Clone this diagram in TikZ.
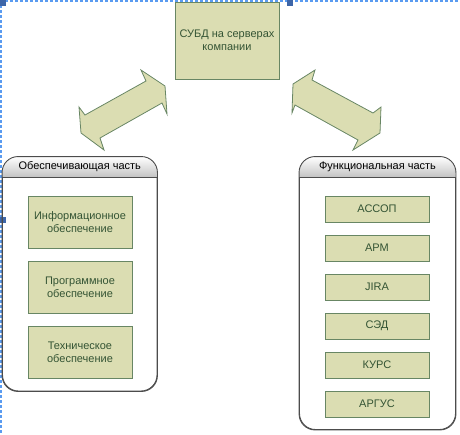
\documentclass[tikz,border=0pt]{standalone}
\usepackage{fontspec}
\setmainfont{Liberation Sans}
\usepackage{tikz}
\usetikzlibrary{positioning,calc}
\definecolor{boxFill}{RGB}{219,221,178}
\definecolor{boxLine}{RGB}{104,134,100}
\definecolor{boxText}{RGB}{52,84,52}
\definecolor{selBlue}{RGB}{90,155,240}
\definecolor{selHandle}{RGB}{62,102,168}
\tikzset{
  subsys/.style={draw=boxLine,fill=boxFill,line width=0.9pt,text=boxText,
    align=center,inner sep=0pt,minimum width=104pt},
  part/.style={draw=black!70,line width=0.9pt,rounded corners=16pt,
    inner sep=0pt},
  blockarrow/.style={draw=boxLine,fill=boxFill,line width=0.8pt,line join=miter}
}
\begin{document}
\begin{tikzpicture}[x=1pt,y=-1pt,font=\fontsize{11}{13}\selectfont]
\useasboundingbox (0,0) rectangle (460,434);
% selection frame
\draw[selBlue,line width=1.1pt,dash pattern=on 3pt off 2pt] (0,1) -- (460,1);
\draw[selBlue,line width=1.1pt,dash pattern=on 3pt off 2pt] (1,0) -- (1,434);
\foreach \hx/\hy in {0/0, 287/0, 0/217}
  \fill[selHandle] (\hx,\hy) rectangle ++(6,6);
% DBMS
\node[subsys,minimum height=77pt] (dbms) at (227,40.5)
  {СУБД на серверах\\компании};
% parts
\node[part,minimum width=154.5pt,minimum height=234pt] (supp) at (79.75,274) {};
\node[part,minimum width=156pt,minimum height=272.5pt] (func) at (377.5,293.25) {};
\foreach \p in {supp,func}{
  \begin{scope}
    \clip[rounded corners=16pt] (\p.north west) rectangle (\p.south east);
    \shade[top color=white,bottom color=black!24] (\p.north west) rectangle ($(\p.north east)+(0,21)$);
  \end{scope}
  \draw[black!70,line width=0.9pt,rounded corners=16pt] (\p.north west) rectangle (\p.south east);
  \draw[black!70,line width=0.7pt] ($(\p.north west)+(0,21)$) -- ($(\p.north east)+(0,21)$);
}
\node (suppTitle) at ($(supp.north)+(0,10.5)$) {Обеспечивающая часть};
\node (funcTitle) at ($(func.north)+(0,10.5)$) {Функциональная часть};
% supporting subsystems
\foreach \lab/\y [count=\i] in {Информационное\\обеспечение/222,
  Программное\\обеспечение/287, Техническое\\обеспечение/352}
  \node[subsys,minimum height=52pt] (s\i) at (80,\y) {\lab};
% functional subsystems
\foreach \lab/\y [count=\i] in {АССОП/209, АРМ/248, JIRA/287,
  СЭД/326, КУРС/365, АРГУС/404}
  \node[subsys,minimum height=26pt] (f\i) at (377,\y) {\lab};
% double arrows
\draw[blockarrow] (79,107) -- (85,115) -- (146,81) -- (141,70) -- (165,86)
  -- (167,114) -- (162,103) -- (100,138) -- (104,150) -- (81,133) -- cycle;
\draw[blockarrow] (381,107) -- (373,113) -- (312,80) -- (315,70) -- (293,84)
  -- (292,113) -- (295,105) -- (358,140) -- (353,150) -- (380,133) -- cycle;
\end{tikzpicture}
\end{document}
